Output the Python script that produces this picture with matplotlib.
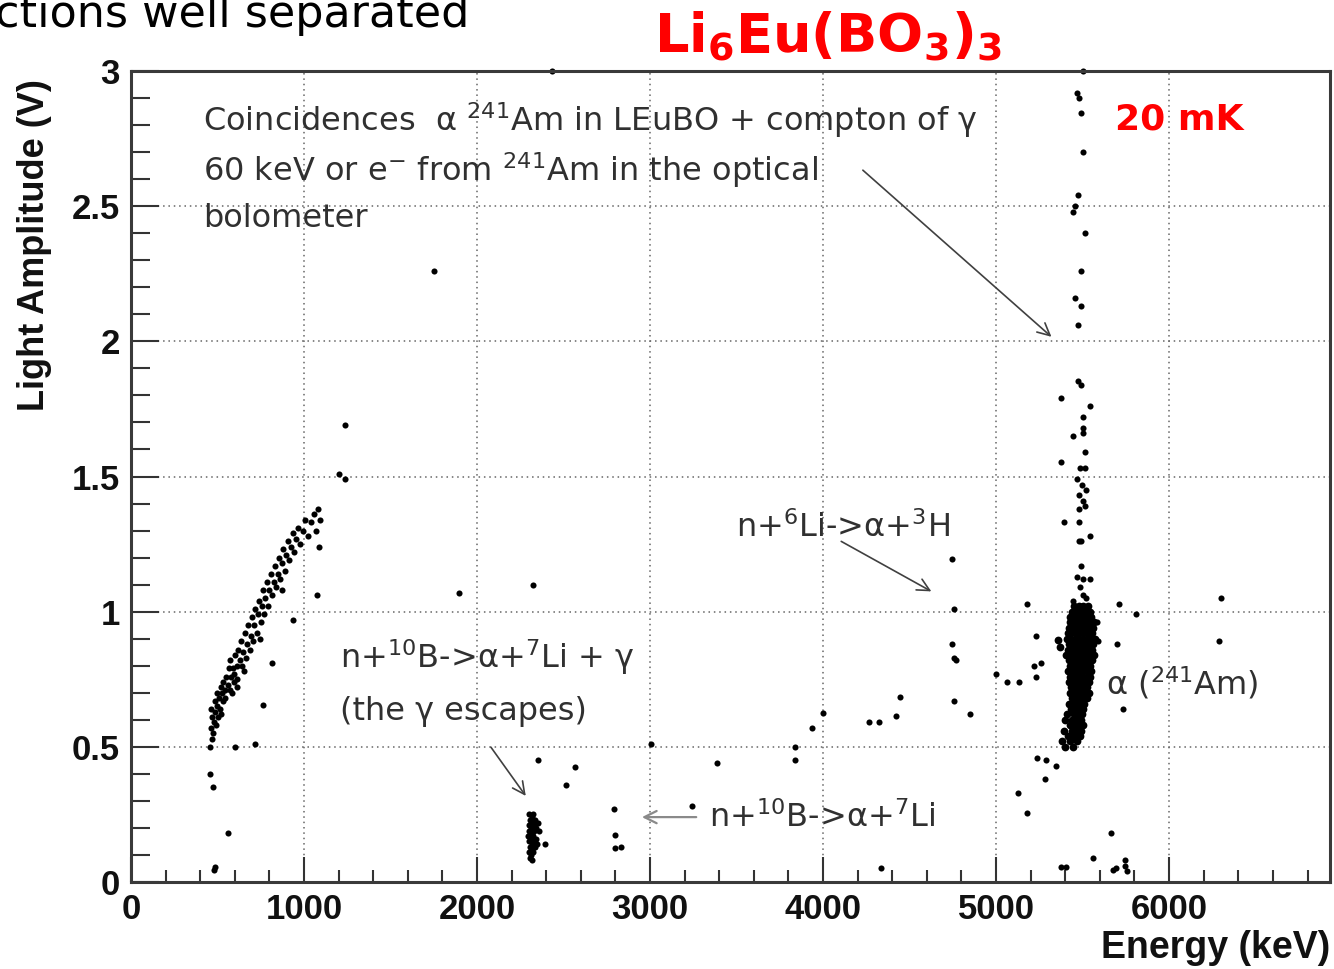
import matplotlib.pyplot as plt
from matplotlib.ticker import MultipleLocator, FixedLocator, FixedFormatter

# band of gamma / electron events (low energy, rising light)
gamma_e = [458, 466, 461, 472, 470, 478, 465, 483, 490, 488, 497, 503, 499, 510, 516, 521,
           529, 534, 527, 543, 551, 546, 559, 566, 571, 580, 574, 588, 594, 603, 598, 611,
           620, 615, 628, 636, 641, 650, 657, 664, 671, 676, 686, 692, 698, 707, 713, 719,
           727, 734, 741, 749, 756, 763, 770, 777, 784, 793, 800, 807, 816, 824, 830, 839,
           847, 855, 863, 872, 879, 889, 897, 906, 916, 926, 934, 945, 956, 966, 978, 992,
           1006, 1021, 1038, 1056, 1070, 1083, 1095, 585, 655, 745, 870, 520, 610,
           456, 475, 560, 485, 480, 600, 715, 762, 813, 935, 1073, 1085, 1235, 1235, 1200]
gamma_v = [0.50, 0.53, 0.57, 0.55, 0.61, 0.59, 0.64, 0.63, 0.58, 0.67, 0.65, 0.61, 0.70, 0.68, 0.64, 0.72,
           0.67, 0.74, 0.70, 0.71, 0.76, 0.68, 0.73, 0.79, 0.71, 0.76, 0.82, 0.79, 0.74, 0.84, 0.77, 0.80,
           0.86, 0.75, 0.82, 0.89, 0.80, 0.85, 0.92, 0.83, 0.88, 0.95, 0.86, 0.91, 0.98, 0.89, 0.95, 1.01,
           0.92, 0.99, 1.04, 0.96, 1.02, 1.08, 0.99, 1.05, 1.11, 1.02, 1.08, 1.14, 1.06, 1.11, 1.17, 1.09,
           1.14, 1.20, 1.12, 1.18, 1.23, 1.15, 1.21, 1.26, 1.19, 1.24, 1.29, 1.22, 1.27, 1.31, 1.25, 1.30,
           1.34, 1.28, 1.33, 1.36, 1.30, 1.38, 1.34, 0.70, 0.78, 0.90, 1.08, 0.62, 0.72,
           0.40, 0.35, 0.18, 0.055, 0.045, 0.50, 0.51, 0.655, 0.81, 0.97, 1.06, 1.24, 1.69, 1.49, 1.51]

# n + 10B -> alpha + 7Li + gamma (gamma escapes)
boron_e = [2300, 2315, 2325, 2305, 2320, 2335, 2298, 2312, 2328, 2340, 2302, 2318, 2332, 2296,
           2310, 2325, 2338, 2300, 2316, 2330, 2345, 2305, 2320, 2335, 2298, 2312, 2326, 2308,
           2320, 2360, 2350]
boron_v = [0.25, 0.24, 0.25, 0.23, 0.22, 0.23, 0.21, 0.20, 0.21, 0.20, 0.19, 0.18, 0.19, 0.17,
           0.16, 0.17, 0.16, 0.15, 0.14, 0.15, 0.14, 0.13, 0.12, 0.13, 0.11, 0.10, 0.11, 0.09,
           0.08, 0.19, 0.22]

# 241Am alpha peak
alpha_e = [5450, 5480, 5505, 5530,
           5440, 5465, 5490, 5515, 5545,
           5430, 5455, 5480, 5500, 5525, 5550,
           5425, 5450, 5470, 5495, 5520, 5545, 5565,
           5420, 5440, 5465, 5485, 5510, 5535, 5560,
           5415, 5435, 5460, 5480, 5505, 5530, 5555,
           5410, 5430, 5455, 5475, 5500, 5525, 5550, 5570,
           5420, 5445, 5470, 5490, 5515, 5540, 5560,
           5415, 5435, 5460, 5485, 5505, 5530, 5555,
           5405, 5430, 5450, 5475, 5500, 5520, 5545, 5565,
           5420, 5445, 5465, 5490, 5510, 5535, 5555,
           5425, 5450, 5470, 5495, 5520, 5545,
           5415, 5440, 5460, 5485, 5505, 5530, 5550,
           5430, 5455, 5475, 5500, 5525, 5545,
           5420, 5445, 5465, 5490, 5510, 5535,
           5435, 5455, 5480, 5500, 5525,
           5430, 5450, 5470, 5495, 5515, 5535,
           5440, 5460, 5485, 5505, 5525,
           5420, 5445, 5470, 5490, 5510,
           5435, 5460, 5480, 5500,
           5410, 5450, 5475, 5495,
           5400, 5440, 5465, 5490,
           5425, 5455, 5480, 5505,
           5395, 5440, 5470, 5490,
           5415, 5450, 5485,
           5380, 5430, 5465,
           5400, 5445,
           5360, 5370]
alpha_v = [1.02, 1.02, 1.02, 1.02,
           1.00, 1.00, 1.00, 1.00, 1.00,
           0.98, 0.98, 0.98, 0.98, 0.98, 0.98,
           0.96, 0.96, 0.96, 0.96, 0.96, 0.96, 0.96,
           0.94, 0.94, 0.94, 0.94, 0.94, 0.94, 0.94,
           0.92, 0.92, 0.92, 0.92, 0.92, 0.92, 0.92,
           0.90, 0.90, 0.90, 0.90, 0.90, 0.90, 0.90, 0.90,
           0.88, 0.88, 0.88, 0.88, 0.88, 0.88, 0.88,
           0.86, 0.86, 0.86, 0.86, 0.86, 0.86, 0.86,
           0.84, 0.84, 0.84, 0.84, 0.84, 0.84, 0.84, 0.84,
           0.82, 0.82, 0.82, 0.82, 0.82, 0.82, 0.82,
           0.80, 0.80, 0.80, 0.80, 0.80, 0.80,
           0.78, 0.78, 0.78, 0.78, 0.78, 0.78, 0.78,
           0.76, 0.76, 0.76, 0.76, 0.76, 0.76,
           0.74, 0.74, 0.74, 0.74, 0.74, 0.74,
           0.72, 0.72, 0.72, 0.72, 0.72,
           0.70, 0.70, 0.70, 0.70, 0.70, 0.70,
           0.68, 0.68, 0.68, 0.68, 0.68,
           0.66, 0.66, 0.66, 0.66, 0.66,
           0.64, 0.64, 0.64, 0.64,
           0.62, 0.62, 0.62, 0.62,
           0.60, 0.60, 0.60, 0.60,
           0.58, 0.58, 0.58, 0.58,
           0.56, 0.56, 0.56, 0.56,
           0.54, 0.54, 0.54,
           0.52, 0.52, 0.52,
           0.50, 0.50,
           0.895, 0.87]

# alpha + coincident compton / electron events above the peak
coinc_e = [5500, 5465, 5480, 5493, 5500, 5476, 5458, 5447, 5516, 5493, 5458, 5493, 5476, 5476,
           5493, 5378, 5545, 5505, 5505, 5505, 5447, 5516, 5378, 5487, 5516, 5470, 5495, 5520,
           5478, 5500, 5512, 5482, 5390, 5482, 5478, 5493, 5545, 5493, 5470, 5505, 5540, 5487,
           5447, 5500, 5520]
coinc_v = [3.0, 2.92, 2.90, 2.845, 2.70, 2.54, 2.50, 2.48, 2.40, 2.26, 2.16, 2.13, 2.06, 1.855,
           1.84, 1.79, 1.76, 1.72, 1.68, 1.66, 1.65, 1.59, 1.555, 1.53, 1.53, 1.49, 1.47, 1.45,
           1.43, 1.41, 1.39, 1.38, 1.33, 1.33, 1.26, 1.26, 1.28, 1.17, 1.13, 1.12, 1.12, 1.09,
           1.04, 1.06, 1.05]

# remaining scattered events
other_e = [1898, 1750, 2325, 2435, 2355, 2568, 2515, 2390, 2793, 2800, 2795, 2835,
           3006, 3387, 3243, 3837, 3837, 3935, 3999, 4264, 4322, 4420, 4443, 4333,
           4743, 4755, 4743, 4755, 4766, 4755, 4847,
           4997, 5066, 5130, 5176, 5228, 5222, 5257, 5228,
           5124, 5176, 5234, 5286, 5349, 5280,
           5378, 5407, 5563, 5666, 5678, 5695, 5747, 5747, 5755,
           5712, 5811, 5701, 5736, 6301, 6290, 5586, 5591]
other_v = [1.07, 2.26, 1.10, 3.0, 0.45, 0.425, 0.36, 0.14, 0.27, 0.175, 0.125, 0.13,
           0.51, 0.44, 0.28, 0.50, 0.45, 0.57, 0.625, 0.59, 0.59, 0.615, 0.685, 0.05,
           1.195, 1.01, 0.88, 0.83, 0.82, 0.67, 0.62,
           0.77, 0.74, 0.74, 1.03, 0.91, 0.80, 0.81, 0.76,
           0.33, 0.255, 0.46, 0.45, 0.43, 0.38,
           0.055, 0.055, 0.09, 0.18, 0.045, 0.05, 0.08, 0.06, 0.04,
           1.03, 0.99, 0.88, 0.64, 1.05, 0.89, 0.96, 0.89]

plt.rcParams['mathtext.fontset'] = 'dejavusans'

fig = plt.figure(figsize=(13.34, 9.69), dpi=100)
ax = fig.add_axes([0.0982, 0.0898, 0.8988, 0.8369])

for e, v, size in [(gamma_e, gamma_v, 4.4), (boron_e, boron_v, 4.4), (alpha_e, alpha_v, 5.6),
                   (coinc_e, coinc_v, 4.4), (other_e, other_v, 4.4)]:
    ax.plot(e, v, 'o', color='black', ms=size, mew=0, clip_on=False)

ax.set_xlim(0, 6930)
ax.set_ylim(0, 3)

ax.xaxis.set_major_locator(MultipleLocator(1000))
ax.xaxis.set_minor_locator(MultipleLocator(200))
ax.yaxis.set_major_locator(FixedLocator([0, 0.5, 1, 1.5, 2, 2.5, 3]))
ax.yaxis.set_major_formatter(FixedFormatter(['0', '0.5', '1', '1.5', '2', '2.5', '3']))
ax.yaxis.set_minor_locator(MultipleLocator(0.1))

tick_font = {'family': 'Liberation Sans', 'weight': 'bold', 'size': 25}
for lab in ax.get_xticklabels() + ax.get_yticklabels():
    lab.set_fontproperties(tick_font)
    lab.set_color('#111111')

ax.tick_params(axis='x', which='major', direction='in', length=18, width=1.5, color='#333', pad=8)
ax.tick_params(axis='x', which='minor', direction='in', length=9, width=1.5, color='#333')
ax.tick_params(axis='y', which='major', direction='in', length=20, width=1.5, color='#333', pad=8)
ax.tick_params(axis='y', which='minor', direction='in', length=14, width=1.5, color='#333')

for s in ax.spines.values():
    s.set_color('#3a3a3a')
    s.set_linewidth(2.2)

ax.grid(True, which='major', color='#666666', linestyle=(0, (1, 2.5)), linewidth=1.1)
ax.set_axisbelow(True)

fig.text(35 / 1334, 1 - 245 / 969, 'Light Amplitude (V)', rotation=90, ha='center', va='center',
         family='Liberation Sans', weight='bold', size=26, color='#111111')
fig.text(1330 / 1334, 1 - 948 / 969, 'Energy (keV)', ha='right', va='center',
         family='Liberation Sans', weight='bold', size=27, color='#111111')

# slide title and heading fragment
fig.text(828 / 1334, 1 - 53 / 969, r'Li$_\mathbf{6}$Eu(BO$_\mathbf{3}$)$_\mathbf{3}$', ha='center',
         va='baseline', color='#ff0000', weight='bold', size=39, family='DejaVu Sans')
fig.text(-0.004, 1 - 27 / 969, 'ctions well separated', ha='left', va='baseline',
         size=32, family='DejaVu Sans', color='black')
ax.text(5690, 2.82, '20 mK', ha='left', va='center', color='#ff0000', weight='bold',
        size=26, family='DejaVu Sans')

note = dict(family='DejaVu Sans', size=23, color='#303030')
ax.text(415, 2.82, 'Coincidences  α $^{241}$Am in LEuBO + compton of γ',
        ha='left', va='center', **note)
ax.text(415, 2.635, '60 keV or e$^{-}$ from $^{241}$Am in the optical', ha='left', va='center', **note)
ax.text(415, 2.455, 'bolometer', ha='left', va='center', **note)
ax.text(1206, 0.832, 'n+$^{10}$B->α+$^{7}$Li + γ', ha='left', va='center', **note)
ax.text(1206, 0.629, '(the γ escapes)', ha='left', va='center', **note)
ax.text(3497, 1.31, 'n+$^{6}$Li->α+$^{3}$H', ha='left', va='center', **note)
ax.text(3341, 0.237, 'n+$^{10}$B->α+$^{7}$Li', ha='left', va='center', **note)
ax.text(5638, 0.736, 'α ($^{241}$Am)', ha='left', va='center', **note)

arrow = dict(arrowstyle='->', color='#404040', lw=1.2, mutation_scale=22)
ax.annotate('', xy=(5332, 2.01), xytext=(4218, 2.64), arrowprops=arrow)
ax.annotate('', xy=(4640, 1.07), xytext=(4091, 1.265), arrowprops=arrow)
ax.annotate('', xy=(2291, 0.31), xytext=(2071, 0.507), arrowprops=arrow)
ax.annotate('', xy=(2937, 0.24), xytext=(3283, 0.24),
            arrowprops=dict(arrowstyle='->', color='#8a8a8a', lw=1.6, mutation_scale=22))

fig.savefig('out.png', dpi=100)
